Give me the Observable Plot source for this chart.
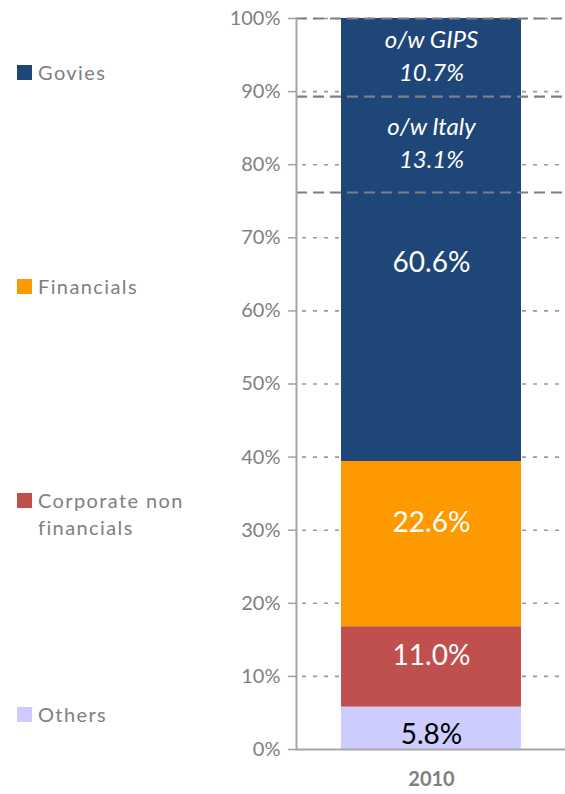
<!DOCTYPE html>
<html><head><meta charset="utf-8">
<script src="https://cdn.jsdelivr.net/npm/d3@7"></script>
<script src="https://cdn.jsdelivr.net/npm/@observablehq/plot@0.6"></script>
<style>
body{margin:0;background:#fff;font-family:Lato,"Open Sans",sans-serif;}
#wrap{position:relative;width:565px;height:794px;}
#legend{position:absolute;left:0;top:0;}
.item{position:absolute;left:17px;display:flex;align-items:flex-start;color:#7f7f7f;font-size:20px;letter-spacing:1.4px;line-height:27px;white-space:nowrap;}
.sw{width:15px;height:15px;margin-top:6px;margin-right:6px;flex:none;}
</style></head>
<body><div id="wrap"><div id="legend"></div></div>
<script>
const year = "2010";
const categories = ["Others", "Corporate non financials", "Financials", "Govies"];
const values = [5.8, 11.0, 22.6, 60.6];
const colors = ["#CCCCFF", "#C0504D", "#FF9900", "#1F4678"];
const valueLabels = ["5.8%", "11.0%", "22.6%", "60.6%"];
const labelY = [2.0, 12.8, 31.0, 66.5];
const labelFill = ["#000000", "#ffffff", "#ffffff", "#ffffff"];
const subLines = [100, 89.3, 76.2];
const subLabels = ["o/w GIPS\n10.7%", "o/w Italy\n13.1%"];
const subLabelY = [95.2, 83.2];
const yTicks = [0, 10, 20, 30, 40, 50, 60, 70, 80, 90, 100];
const legendOrder = ["Govies", "Financials", "Corporate non financials", "Others"];
const legendTop = [59, 273, 487, 701];

const data = categories.map((c, i) => ({year, cat: c, value: values[i]}));
const labels = categories.map((c, i) => ({year, y: labelY[i], text: valueLabels[i], fill: labelFill[i]}));
const subs = subLabels.map((t, i) => ({year, y: subLabelY[i], text: t}));

const W = 565, ML = 296;
const chart = Plot.plot({
  width: W, height: 794,
  marginLeft: ML, marginRight: 0, marginTop: 18, marginBottom: 45,
  style: {fontFamily: "Lato, 'Open Sans', sans-serif", background: "#fff"},
  x: {domain: [year], padding: 0.198, label: null},
  y: {domain: [0, 100], label: null},
  color: {domain: categories, range: colors},
  marks: [
    Plot.ruleY(yTicks.filter(d => d > 0), {stroke: "#999999", strokeWidth: 1.6, strokeDasharray: "4,7", insetLeft: 6}),
    Plot.barY(data, {x: "year", y: "value", fill: "cat"}),
    Plot.ruleY(subLines, {x1: () => year, x2: () => year, stroke: "#7f7f7f", strokeWidth: 2.2, strokeDasharray: "11,6", insetRight: -45}),
    Plot.text(labels, {x: "year", y: "y", text: "text", fill: "fill", fontSize: 28}),
    Plot.text(subs, {x: "year", y: "y", text: "text", fill: "#fff", fontSize: 24, fontStyle: "italic", lineHeight: 1.38}),
    Plot.ruleY([0], {stroke: "#a6a6a6", strokeWidth: 2}),
    Plot.frame({anchor: "left", stroke: "#a6a6a6", strokeWidth: 2}),
    Plot.axisY({ticks: yTicks, tickFormat: d => d + "%", tickSize: 8, tickPadding: 8, fontSize: 20, color: "#808080", stroke: "#a6a6a6", strokeWidth: 1.6, label: null}),
    Plot.axisX({tickSize: 0, tickPadding: 22, fontSize: 20, fontWeight: "bold", color: "#808080", label: null})
  ]
});
chart.style.position = "absolute";
chart.style.left = "0";
chart.style.top = "0";
document.getElementById("wrap").prepend(chart);

const legend = document.getElementById("legend");
legendOrder.forEach((name, i) => {
  const div = document.createElement("div");
  div.className = "item";
  div.style.top = legendTop[i] + "px";
  const sw = document.createElement("div");
  sw.className = "sw";
  sw.style.background = colors[categories.indexOf(name)];
  const tx = document.createElement("div");
  tx.innerHTML = name === "Corporate non financials" ? "Corporate non<br>financials" : name;
  div.appendChild(sw); div.appendChild(tx);
  legend.appendChild(div);
});
</script></body></html>
